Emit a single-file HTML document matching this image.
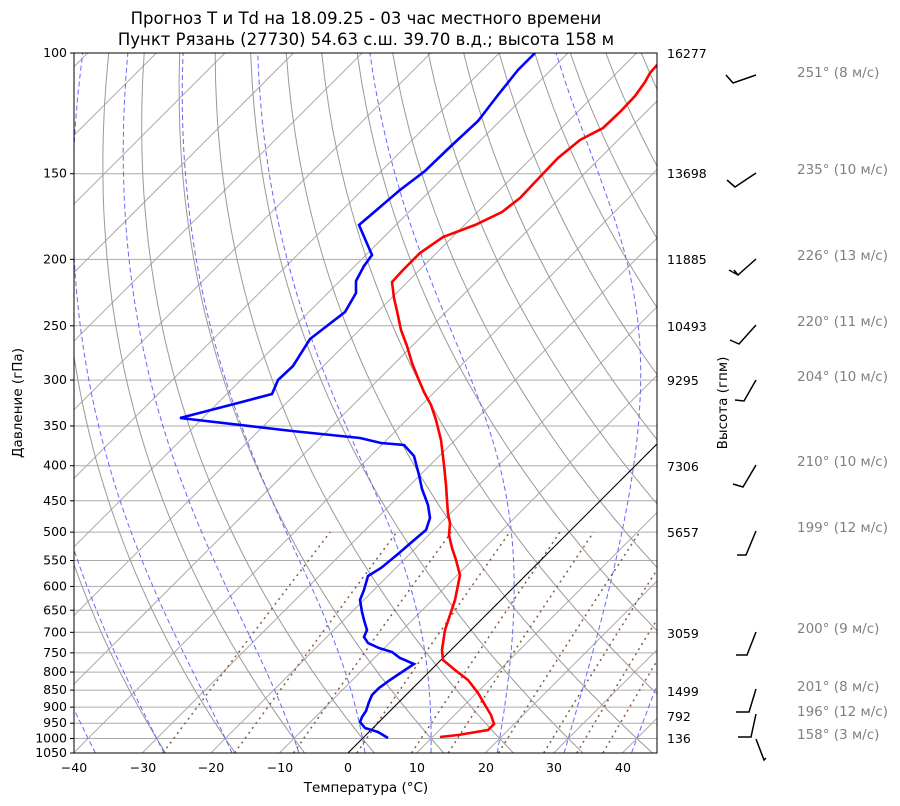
<!DOCTYPE html>
<html><head><meta charset="utf-8"><style>
body{margin:0;background:#fff;}
svg{display:block;font-family:"DejaVu Sans","Liberation Sans",sans-serif;}
</style></head><body>
<svg id="s" width="900" height="806" xmlns="http://www.w3.org/2000/svg">
<defs><clipPath id="c"><rect x="74" y="53" width="583" height="700"/></clipPath></defs>
<rect width="900" height="806" fill="#fff"/>
<g id="g" clip-path="url(#c)"></g>
<rect x="74" y="53" width="583" height="700" fill="none" stroke="#000" stroke-width="1"/>
<g font-size="16.5" text-anchor="middle" fill="#000">
<text x="366" y="24">Прогноз T и Td на 18.09.25 - 03 час местного времени</text>
<text x="366" y="45">Пункт Рязань (27730) 54.63 с.ш. 39.70 в.д.; высота 158 м</text>
</g>
<g font-size="12.5" fill="#000" text-anchor="middle" id="xt">
<text x="74" y="772">−40</text><text x="143" y="772">−30</text><text x="211" y="772">−20</text><text x="280" y="772">−10</text><text x="348" y="772">0</text><text x="417" y="772">10</text><text x="486" y="772">20</text><text x="554" y="772">30</text><text x="623" y="772">40</text>
<text x="366" y="792" font-size="13.5">Температура (°C)</text>
</g>
<g font-size="12.5" fill="#000" text-anchor="end" id="yt"></g>
<text transform="translate(22,403) rotate(-90)" font-size="13.5" text-anchor="middle">Давление (гПа)</text>
<g font-size="12.5" fill="#000" text-anchor="start">
<text x="667" y="58">16277</text><text x="667" y="178">13698</text><text x="667" y="264">11885</text><text x="667" y="331">10493</text><text x="667" y="385">9295</text><text x="667" y="471">7306</text><text x="667" y="537">5657</text><text x="667" y="638">3059</text><text x="667" y="696">1499</text><text x="667" y="721">792</text><text x="667" y="743">136</text>
</g>
<text transform="translate(727,403) rotate(-90)" font-size="13.5" text-anchor="middle">Высота (гпм)</text>
<g font-size="13.5" fill="#808080">
<text x="797" y="77">251° (8 м/с)</text><text x="797" y="174">235° (10 м/с)</text><text x="797" y="260">226° (13 м/с)</text><text x="797" y="326">220° (11 м/с)</text><text x="797" y="381">204° (10 м/с)</text><text x="797" y="466">210° (10 м/с)</text><text x="797" y="532">199° (12 м/с)</text><text x="797" y="633">200° (9 м/с)</text><text x="797" y="691">201° (8 м/с)</text><text x="797" y="716">196° (12 м/с)</text><text x="797" y="739">158° (3 м/с)</text>
</g>
<g stroke="#000" stroke-width="1.5" fill="none">
<polyline points="756,75 733,83 726,75"/>
<polyline points="756,173 735,187 727,180"/>
<polyline points="756,259 738,275 729,270"/><line x1="734" y1="270" x2="738" y2="275"/>
<polyline points="756,325 739,344 730,340"/>
<polyline points="756,380 744,401 735,400"/>
<polyline points="756,465 743,487 733,484"/>
<polyline points="756,531 746,555 737,555"/>
<polyline points="756,632 747,655 736,655"/>
<polyline points="756,689 749,712 736,712"/>
<polyline points="756,714 751,737 738,737"/>
<polyline points="756,739 764,760 766,758"/>
</g>
<script>
var NS="http://www.w3.org/2000/svg",g=document.getElementById('g'),yt=document.getElementById('yt');
function Y(p){return 53+685.5*Math.log10(p/100);}
function X(T,p){return 348+T*6.859+(753-Y(p));}
function path(pts,st,w,da){var e=document.createElementNS(NS,'polyline');e.setAttribute('points',pts.map(function(q){return q[0].toFixed(1)+','+q[1].toFixed(1)}).join(' '));e.setAttribute('fill','none');e.setAttribute('stroke',st);e.setAttribute('stroke-width',w);if(da)e.setAttribute('stroke-dasharray',da);g.appendChild(e);}
var P=[100,150,200,250,300,350,400,450,500,550,600,650,700,750,800,850,900,950,1000,1050];
P.forEach(function(p){var y=Y(p);path([[74,y],[657,y]],'#aaa',1);var t=document.createElementNS(NS,'text');t.setAttribute('x',67);t.setAttribute('y',(y+4).toFixed(1));t.textContent=p;yt.appendChild(t);
var l=document.createElementNS(NS,'line');l.setAttribute('x1',70);l.setAttribute('x2',74);l.setAttribute('y1',y);l.setAttribute('y2',y);l.setAttribute('stroke','#000');document.getElementById('s').appendChild(l);});
for(var T=-200;T<=50;T+=10){path([[X(T,1050),Y(1050)],[X(T,100),Y(100)]],'#aaa',1);}
for(var th=-30;th<=200;th+=10){var pts=[];for(var p=1050;p>=100;p-=10){var T=(th+273.15)*Math.pow(p/1000,0.286)-273.15;pts.push([X(T,p),Y(p)]);}path(pts,'#999',1);}
function es(T){return 6.112*Math.exp(17.67*T/(T+243.5));}
function gam(T,p){var Tk=T+273.15,rs=0.622*es(T)/(p-es(T)),Lv=2.501e6,Rd=287,cp=1005;
return (Rd*Tk+Lv*rs)/(cp+Lv*Lv*rs*0.622/(Rd*Tk*Tk))/p;}
for(var t0=-40;t0<=50;t0+=10){
var up=[],T=t0;for(var p=1000;p>=100;p-=2){up.push([X(T,p),Y(p)]);T-=gam(T,p)*2;}
var dn=[],T=t0;for(var p=1000;p<=1050;p+=2){dn.unshift([X(T,p),Y(p)]);T+=gam(T,p)*2;}
path(dn.concat(up),'#6666ff',1,'5,3');}
[0.0004,0.001,0.002,0.004,0.007,0.01,0.016,0.024,0.032,0.04].forEach(function(w){var pts=[];for(var p=1050;p>=500;p-=10){var e=p*w/(0.622+w),l=Math.log(e/6.112),Td=243.5*l/(17.67-l);pts.push([X(Td,p),Y(p)]);}path(pts,'#8b5a3c',1.5,'2,4');});
path([[X(0,1050),Y(1050)],[X(0,100),Y(100)]],'#000',1);
var red=[[440,737],[458,735],[488,730],[494,724],[491,715],[485,705],[478,693],[468,680],[455,670],[443,660],[442,650],[445,630],[450,615],[455,600],[460,575],[456,560],[452,548],[449,535],[450,523],[448,514],[447,500],[446,485],[444,465],[441,440],[436,420],[431,405],[424,392],[418,378],[412,363],[407,346],[401,330],[397,311],[394,298],[392,282],[403,270],[420,253],[443,237],[475,225],[502,212],[520,198],[537,180],[558,158],[580,140],[603,128],[620,112],[635,96],[645,82],[650,73],[657,65]];
var blue=[[388,738],[378,732],[365,728],[360,722],[362,717],[366,711],[369,702],[372,695],[379,688],[390,680],[408,668],[414,664],[400,658],[392,652],[379,648],[368,643],[364,637],[367,630],[364,620],[362,612],[360,600],[364,590],[368,576],[381,568],[398,554],[413,541],[426,530],[430,518],[428,505],[422,489],[419,475],[414,456],[404,445],[381,443],[360,438],[292,431],[180,418],[238,403],[272,394],[278,380],[293,366],[310,339],[345,312],[356,293],[356,281],[364,266],[372,255],[359,225],[400,190],[425,171],[450,147],[478,121],[498,95],[510,80],[518,70],[535,53]];
path(red,'#ff0000',2.6);path(blue,'#0000ff',2.6);
</script>
</svg>
</body></html>
